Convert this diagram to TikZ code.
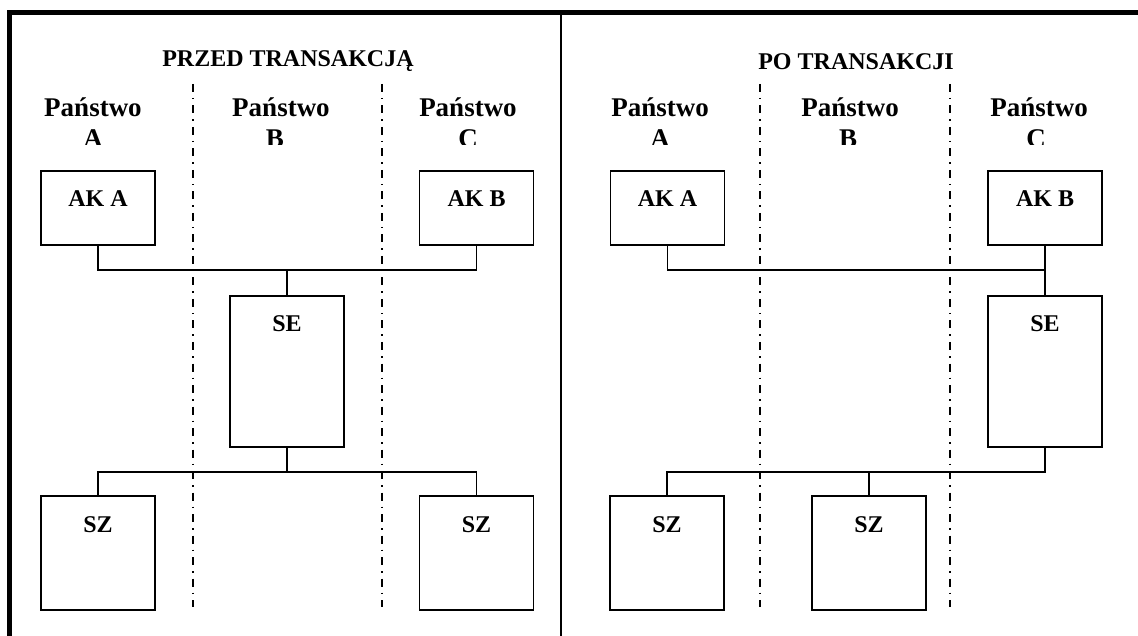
\documentclass[tikz,border=0pt]{standalone}
\usepackage{fontspec}
\setmainfont{Liberation Serif}
\usetikzlibrary{positioning}

\tikzset{
  box/.style={draw, line width=1.5pt, minimum width=114pt, inner sep=0pt,
    text height=36pt, text depth=#1, font=\bfseries\fontsize{24}{28}\selectfont},
  head/.style={inner sep=0pt, anchor=base, font=\bfseries\fontsize{24}{28}\selectfont},
  state/.style={inner sep=0pt, anchor=base, font=\bfseries\fontsize{27}{30}\selectfont},
  link/.style={line width=1.5pt},
  sep/.style={line width=1.8pt, dash pattern=on 8pt off 6pt on 1.5pt off 6pt},
  frame/.style={line width=5pt}
}

\begin{document}
\begin{tikzpicture}[x=1pt, y=-1pt]
	\useasboundingbox (0,0) rectangle (1138,636);

	% frame
	\draw[frame] (9.5,636) -- (9.5,12.5) -- (1138,12.5);
	\draw[line width=2pt] (561,12.5) -- (561,636);

	\foreach \x in {193,382,760,950}
		\draw[sep] (\x,84) -- (\x,607);

	% headings
	\node[head] (przed) at (288,67) {PRZED TRANSAKCJĄ};
	\node[head] (po) at (856,70) {PO TRANSAKCJI};

	\foreach \n/\x in {A1/93, B1/281, C1/468, A2/660, B2/850, C2/1039}
		\node[state] (st\n) at (\x,117) {Państwo};

	\begin{scope}
		\clip (0,120) rectangle (1138,145);
		\node[state] (ltA1) at ([yshift=-31pt]stA1.base) {A};
		\node[state] (ltB1) at ([xshift=-6pt,yshift=-31pt]stB1.base) {B};
		\node[state] (ltC1) at ([yshift=-31pt]stC1.base) {C};
		\node[state] (ltA2) at ([yshift=-31pt]stA2.base) {A};
		\node[state] (ltB2) at ([xshift=-2pt,yshift=-31pt]stB2.base) {B};
		\node[state] (ltC2) at ([xshift=-3pt,yshift=-31pt]stC2.base) {C};
	\end{scope}

	% before
	\node[box=38pt] (akA1) at (98,208) {AK A};
	\node[box=38pt] (akB1) at (476.5,208) {AK B};
	\node[box=115pt] (se1) at (287,371.5) {SE};
	\node[box=78pt] (szA1) at (98,553) {SZ};
	\node[box=78pt] (szB1) at (476.5,553) {SZ};

	\coordinate (up1) at (287,270);
	\coordinate (dn1) at (287,472);
	\draw[link] (akA1.south) |- (up1) -| (akB1.south);
	\draw[link] (up1) -- (se1.north);
	\draw[link] (szA1.north) |- (dn1) -| (szB1.north);
	\draw[link] (se1.south) -- (dn1);

	% after
	\node[box=38pt] (akA2) at (667.5,208) {AK A};
	\node[box=38pt] (akB2) at (1045,208) {AK B};
	\node[box=115pt] (se2) at (1045,371.5) {SE};
	\node[box=78pt] (szA2) at (667,553) {SZ};
	\node[box=78pt] (szB2) at (869,553) {SZ};

	\coordinate (up2) at (1045,270);
	\coordinate (dn2) at (1045,472);
	\draw[link] (akA2.south) |- (up2);
	\draw[link] (akB2.south) -- (se2.north);
	\draw[link] (se2.south) -- (dn2) -| (szA2.north);
	\draw[link] (szB2.north) -- (szB2.north |- dn2);
\end{tikzpicture}
\end{document}
